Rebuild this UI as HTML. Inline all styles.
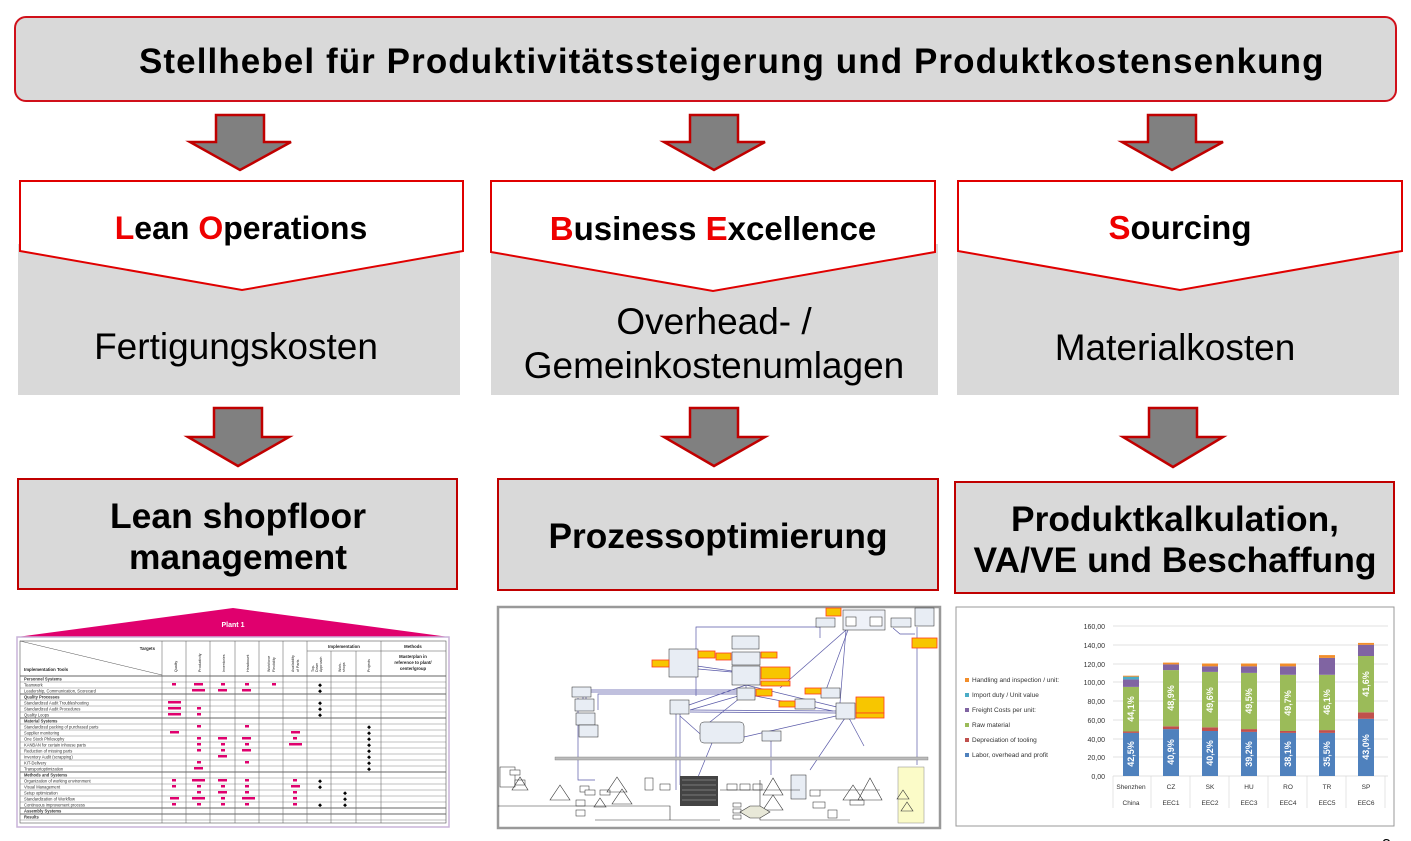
<!DOCTYPE html>
<html><head><meta charset="utf-8"><style>
html,body{margin:0;padding:0;background:#fff;width:1411px;height:841px;overflow:hidden}
svg{display:block;font-family:"Liberation Sans",Arial,sans-serif}
</style></head><body>
<svg width="1411" height="841" viewBox="0 0 1411 841" xmlns="http://www.w3.org/2000/svg">
<!-- Title -->
<rect x="15" y="17" width="1381" height="84" rx="11" fill="#d9d9d9" stroke="#d0101a" stroke-width="2"/>
<text x="731" y="73" text-anchor="middle" font-size="35" font-weight="bold" textLength="1184" lengthAdjust="spacing" letter-spacing="-0.5">Stellhebel für Produktivitätssteigerung  und Produktkostensenkung</text>

<!-- arrows -->
<g fill="#808080" stroke="#c00000" stroke-width="2.5" stroke-linejoin="miter">
<polygon points="216,115 264,115 264,142 291,142 240,170 190,142 216,142"/>
<polygon points="690,115 738,115 738,142 765,142 714,170 664,142 690,142"/>
<polygon points="1148,115 1196,115 1196,142 1223,142 1172,170 1122,142 1148,142"/>
<polygon points="214,408 262,408 262,437 289,437 238,466 188,437 214,437"/>
<polygon points="690,408 738,408 738,437 765,437 714,466 664,437 690,437"/>
<polygon points="1149,408 1197,408 1197,437 1223,437 1173,467 1123,437 1149,437"/>
</g>

<!-- column boxes -->
<rect x="18" y="244" width="442" height="151" fill="#d9d9d9"/>
<rect x="491" y="244" width="447" height="151" fill="#d9d9d9"/>
<rect x="957" y="244" width="442" height="151" fill="#d9d9d9"/>
<g fill="#fff" stroke="#e00000" stroke-width="2">
<polygon points="20,181 463,181 463,251 242,290 20,251"/>
<polygon points="491,181 935,181 935,252 713,291 491,252"/>
<polygon points="958,181 1402,181 1402,251 1180,290 958,251"/>
</g>
<g font-size="33" font-weight="bold" text-anchor="middle">
<text x="241" y="239" font-size="32"><tspan fill="#ee0000">L</tspan>ean <tspan fill="#ee0000">O</tspan>perations</text>
<text x="713" y="240"><tspan fill="#ee0000">B</tspan>usiness <tspan fill="#ee0000">E</tspan>xcellence</text>
<text x="1180" y="239"><tspan fill="#ee0000">S</tspan>ourcing</text>
</g>
<g font-size="37" text-anchor="middle">
<text x="236" y="359">Fertigungskosten</text>
<text x="714" y="334">Overhead- /</text>
<text x="714" y="378">Gemeinkostenumlagen</text>
<text x="1175" y="360">Materialkosten</text>
</g>

<!-- bottom boxes -->
<g fill="#d9d9d9" stroke="#c00000" stroke-width="2">
<rect x="18" y="479" width="439" height="110"/>
<rect x="498" y="479" width="440" height="111"/>
<rect x="955" y="482" width="439" height="111"/>
</g>
<g font-size="35" font-weight="bold" text-anchor="middle">
<text x="238" y="528" textLength="256" lengthAdjust="spacingAndGlyphs">Lean shopfloor</text>
<text x="238" y="569" textLength="218" lengthAdjust="spacingAndGlyphs">management</text>
<text x="718" y="548" textLength="339" lengthAdjust="spacingAndGlyphs">Prozessoptimierung</text>
<text x="1175" y="531" textLength="328" lengthAdjust="spacingAndGlyphs">Produktkalkulation,</text>
<text x="1175" y="572" textLength="403" lengthAdjust="spacingAndGlyphs">VA/VE und Beschaffung</text>
</g>

<!-- Left table image -->
<polygon points="17,637 233,608 449,637" fill="#e0006e"/>
<text x="233" y="627" font-size="7" font-weight="bold" fill="#fff" text-anchor="middle">Plant 1</text>
<rect x="17" y="637" width="432" height="190" fill="#fff" stroke="#c9b3d9" stroke-width="1.5"/>
<rect x="20" y="641" width="426" height="182" fill="none" stroke="#555" stroke-width="0.6"/>
<g stroke="#555" stroke-width="0.5">
<line x1="20" y1="641" x2="162" y2="675"/>
<line x1="162" y1="641" x2="162" y2="823"/><line x1="186" y1="641" x2="186" y2="823"/>
<line x1="210" y1="641" x2="210" y2="823"/><line x1="235" y1="641" x2="235" y2="823"/>
<line x1="259" y1="641" x2="259" y2="823"/><line x1="283" y1="641" x2="283" y2="823"/>
<line x1="307" y1="641" x2="307" y2="823"/><line x1="331" y1="651" x2="331" y2="823"/>
<line x1="356" y1="651" x2="356" y2="823"/><line x1="381" y1="641" x2="381" y2="823"/>
<line x1="307" y1="651" x2="446" y2="651"/>
</g>
<g font-size="4.3" fill="#222">
<text x="155" y="650" text-anchor="end" font-weight="bold">Targets</text>
<text x="24" y="671" font-weight="bold">Implementation  Tools</text>
<text x="344" y="648" text-anchor="middle" font-weight="bold">Implementation</text>
<text x="413" y="648" text-anchor="middle" font-weight="bold">Methods</text>
<text x="413" y="658" text-anchor="middle" font-weight="bold">Masterplan in</text>
<text x="413" y="664" text-anchor="middle" font-weight="bold">reference to plant/</text>
<text x="413" y="670" text-anchor="middle" font-weight="bold">center/group</text>
<g font-size="3.6">
<text transform="translate(177,672) rotate(-90)">Quality</text>
<text transform="translate(201,672) rotate(-90)">Productivity</text>
<text transform="translate(225,672) rotate(-90)">Inventories</text>
<text transform="translate(249,672) rotate(-90)">Headcount</text>
<text transform="translate(270,672) rotate(-90)">Workforce</text><text transform="translate(275,672) rotate(-90)">Flexibility</text>
<text transform="translate(294,672) rotate(-90)">Availability</text><text transform="translate(299,672) rotate(-90)">of Parts</text>
<text transform="translate(314,672) rotate(-90)">Top-</text><text transform="translate(318,672) rotate(-90)">Down</text><text transform="translate(322,672) rotate(-90)">Approach</text>
<text transform="translate(341,672) rotate(-90)">Work-</text><text transform="translate(345,672) rotate(-90)">shops</text>
<text transform="translate(370,672) rotate(-90)">Projects</text>
</g>
</g>
<g stroke="#666" stroke-width="0.4">
<line x1="20" y1="676" x2="446" y2="676" stroke-width="0.9"/>
<line x1="20" y1="682" x2="446" y2="682"/><line x1="20" y1="688" x2="446" y2="688"/><line x1="20" y1="694" x2="446" y2="694" stroke-width="0.9"/>
<line x1="20" y1="700" x2="446" y2="700"/><line x1="20" y1="706" x2="446" y2="706"/><line x1="20" y1="712" x2="446" y2="712"/><line x1="20" y1="718" x2="446" y2="718" stroke-width="0.9"/>
<line x1="20" y1="724" x2="446" y2="724"/><line x1="20" y1="730" x2="446" y2="730"/><line x1="20" y1="736" x2="446" y2="736"/><line x1="20" y1="742" x2="446" y2="742"/><line x1="20" y1="748" x2="446" y2="748"/><line x1="20" y1="754" x2="446" y2="754"/><line x1="20" y1="760" x2="446" y2="760"/><line x1="20" y1="766" x2="446" y2="766"/><line x1="20" y1="772" x2="446" y2="772" stroke-width="0.9"/>
<line x1="20" y1="778" x2="446" y2="778"/><line x1="20" y1="784" x2="446" y2="784"/><line x1="20" y1="790" x2="446" y2="790"/><line x1="20" y1="796" x2="446" y2="796"/><line x1="20" y1="802" x2="446" y2="802"/><line x1="20" y1="808" x2="446" y2="808" stroke-width="0.9"/><line x1="20" y1="814" x2="446" y2="814" stroke-width="0.9"/><line x1="20" y1="820" x2="446" y2="820"/>
</g>
<g font-size="4.1" fill="#333">
<text x="24" y="680.5" font-weight="bold">Personnel Systems</text>
<text x="24" y="686.5">Teamwork</text>
<text x="24" y="692.5">Leadership, Communication, Scorecard</text>
<text x="24" y="698.5" font-weight="bold">Quality Processes</text>
<text x="24" y="704.5">Standardized Audit Troubleshooting</text>
<text x="24" y="710.5">Standardized Audit Procedures</text>
<text x="24" y="716.5">Quality Loops</text>
<text x="24" y="722.5" font-weight="bold">Material Systems</text>
<text x="24" y="728.5">Standardized packing of purchased parts</text>
<text x="24" y="734.5">Supplier monitoring</text>
<text x="24" y="740.5">One Stock Philosophy</text>
<text x="24" y="746.5">KANBAN for certain inhouse parts</text>
<text x="24" y="752.5">Reduction of missing parts</text>
<text x="24" y="758.5">Inventory Audit (scrapping)</text>
<text x="24" y="764.5">KIT-Delivery</text>
<text x="24" y="770.5">Transportoptimization</text>
<text x="24" y="776.5" font-weight="bold">Methods and Systems</text>
<text x="24" y="782.5">Organization of working environment</text>
<text x="24" y="788.5">Visual Management</text>
<text x="24" y="794.5">Setup optimization</text>
<text x="24" y="800.5">Standardization of Workflow</text>
<text x="24" y="806.5">Continuous improvement process</text>
<text x="24" y="812.5" font-weight="bold">Assembly Systems</text>
<text x="24" y="818.5" font-weight="bold">Results</text>
</g>
<g fill="#e0006e">
<rect x="172" y="683" width="4" height="2.5"/><rect x="194" y="683" width="9" height="2.5"/><rect x="221" y="683" width="4" height="2.5"/><rect x="245" y="683" width="4" height="2.5"/><rect x="272" y="683" width="4" height="2.5"/>
<rect x="192" y="689" width="13" height="2.5"/><rect x="218" y="689" width="9" height="2.5"/><rect x="242" y="689" width="9" height="2.5"/>
<rect x="168" y="701" width="13" height="2.5"/><rect x="168" y="707" width="13" height="2.5"/><rect x="197" y="707" width="4" height="2.5"/><rect x="168" y="713" width="13" height="2.5"/><rect x="197" y="713" width="4" height="2.5"/>
<rect x="197" y="725" width="4" height="2.5"/><rect x="245" y="725" width="4" height="2.5"/>
<rect x="170" y="731" width="9" height="2.5"/><rect x="291" y="731" width="9" height="2.5"/>
<rect x="197" y="737" width="4" height="2.5"/><rect x="218" y="737" width="9" height="2.5"/><rect x="242" y="737" width="9" height="2.5"/><rect x="293" y="737" width="4" height="2.5"/>
<rect x="197" y="743" width="4" height="2.5"/><rect x="221" y="743" width="4" height="2.5"/><rect x="245" y="743" width="4" height="2.5"/><rect x="289" y="743" width="13" height="2.5"/>
<rect x="197" y="749" width="4" height="2.5"/><rect x="221" y="749" width="4" height="2.5"/><rect x="242" y="749" width="9" height="2.5"/>
<rect x="218" y="755" width="9" height="2.5"/>
<rect x="197" y="761" width="4" height="2.5"/><rect x="245" y="761" width="4" height="2.5"/>
<rect x="194" y="767" width="9" height="2.5"/>
<rect x="172" y="779" width="4" height="2.5"/><rect x="192" y="779" width="13" height="2.5"/><rect x="218" y="779" width="9" height="2.5"/><rect x="245" y="779" width="4" height="2.5"/><rect x="293" y="779" width="4" height="2.5"/>
<rect x="172" y="785" width="4" height="2.5"/><rect x="197" y="785" width="4" height="2.5"/><rect x="221" y="785" width="4" height="2.5"/><rect x="245" y="785" width="4" height="2.5"/><rect x="291" y="785" width="9" height="2.5"/>
<rect x="197" y="791" width="4" height="2.5"/><rect x="218" y="791" width="9" height="2.5"/><rect x="245" y="791" width="4" height="2.5"/><rect x="293" y="791" width="4" height="2.5"/>
<rect x="170" y="797" width="9" height="2.5"/><rect x="192" y="797" width="13" height="2.5"/><rect x="221" y="797" width="4" height="2.5"/><rect x="242" y="797" width="13" height="2.5"/><rect x="293" y="797" width="4" height="2.5"/>
<rect x="172" y="803" width="4" height="2.5"/><rect x="197" y="803" width="4" height="2.5"/><rect x="221" y="803" width="4" height="2.5"/><rect x="245" y="803" width="4" height="2.5"/><rect x="293" y="803" width="4" height="2.5"/>
</g>
<g font-size="5" fill="#000" text-anchor="middle">
<text x="320" y="686.5">◆</text><text x="320" y="692.5">◆</text><text x="320" y="704.5">◆</text><text x="320" y="710.5">◆</text><text x="320" y="716.5">◆</text>
<text x="369" y="728.5">◆</text><text x="369" y="734.5">◆</text><text x="369" y="740.5">◆</text><text x="369" y="746.5">◆</text><text x="369" y="752.5">◆</text><text x="369" y="758.5">◆</text><text x="369" y="764.5">◆</text><text x="369" y="770.5">◆</text>
<text x="320" y="782.5">◆</text><text x="320" y="788.5">◆</text><text x="345" y="794.5">◆</text><text x="345" y="800.5">◆</text><text x="320" y="806.5">◆</text><text x="345" y="806.5">◆</text>
</g>

<!-- Middle process diagram -->
<rect x="498" y="607" width="442" height="221" fill="#fff" stroke="#999" stroke-width="2.5"/>
<g stroke="#5a5aa8" stroke-width="0.7" fill="none">
<polyline points="696,696 696,627 820,627 820,638"/>
<line x1="669" y1="662" x2="732" y2="671"/><line x1="698" y1="669" x2="732" y2="672"/>
<line x1="746" y1="685" x2="746" y2="688"/><line x1="746" y1="685" x2="689" y2="705"/>
<line x1="746" y1="685" x2="845" y2="709"/><line x1="745" y1="694" x2="690" y2="710"/>
<line x1="745" y1="694" x2="700" y2="730"/><line x1="745" y1="694" x2="833" y2="711"/>
<line x1="690" y1="710" x2="836" y2="711"/><line x1="680" y1="716" x2="707" y2="740"/>
<line x1="690" y1="712" x2="836" y2="713"/><line x1="744" y1="737" x2="836" y2="716"/>
<line x1="848" y1="630" x2="826" y2="690"/><line x1="846" y1="630" x2="780" y2="688"/>
<line x1="846" y1="630" x2="840" y2="703"/><line x1="845" y1="718" x2="810" y2="770"/>
<line x1="842" y1="705" x2="864" y2="746"/><line x1="712" y1="743" x2="698" y2="777"/>
<line x1="771" y1="741" x2="771" y2="775"/>
<polyline points="578,698 578,780 595,780"/><polyline points="583,700 583,690 737,690"/>
<polyline points="586,700 586,692 737,692"/><polyline points="598,710 598,694 737,694"/>
<polyline points="676,713 676,790"/><polyline points="680,713 680,785"/>
<polyline points="917,627 917,765"/><polyline points="893,628 900,634 915,634"/>
</g>
<rect x="555" y="757" width="373" height="3" fill="#bbb" stroke="#777" stroke-width="0.4"/>
<g stroke="#222" stroke-width="0.5" fill="#e8edf4">
<rect x="843" y="610" width="42" height="20" fill="#eef1f8"/><rect x="846" y="617" width="10" height="9" fill="#fff"/><rect x="870" y="617" width="12" height="9" fill="#fff"/>
<rect x="816" y="618" width="19" height="9"/><rect x="891" y="618" width="20" height="9"/><rect x="915" y="608" width="19" height="18"/>
<rect x="669" y="649" width="29" height="28"/><rect x="732" y="636" width="27" height="13"/><rect x="732" y="652" width="28" height="13"/><rect x="732" y="666" width="28" height="19"/>
<rect x="572" y="687" width="19" height="10"/><rect x="575" y="699" width="19" height="12"/><rect x="576" y="713" width="19" height="12"/><rect x="579" y="725" width="19" height="12"/>
<rect x="737" y="688" width="18" height="12"/><rect x="670" y="700" width="19" height="14"/><rect x="795" y="699" width="20" height="10"/><rect x="821" y="688" width="19" height="10"/><rect x="836" y="703" width="19" height="16"/>
<rect x="700" y="722" width="44" height="21" rx="4"/><rect x="762" y="731" width="19" height="10"/>
<rect x="791" y="775" width="15" height="24"/><rect x="645" y="778" width="8" height="12" fill="#fff"/>
<rect x="660" y="784" width="10" height="6" fill="#fff"/><rect x="727" y="784" width="10" height="6" fill="#fff"/><rect x="740" y="784" width="10" height="6" fill="#fff"/><rect x="753" y="784" width="9" height="6" fill="#fff"/>
<rect x="580" y="786" width="9" height="6" fill="#fff"/><rect x="585" y="790" width="10" height="5" fill="#fff"/><rect x="600" y="790" width="10" height="5" fill="#fff"/>
<rect x="576" y="800" width="9" height="6" fill="#fff"/><rect x="576" y="810" width="9" height="6" fill="#fff"/><rect x="810" y="790" width="10" height="6" fill="#fff"/>
<rect x="813" y="802" width="12" height="6" fill="#fff"/><rect x="828" y="810" width="9" height="8" fill="#fff"/><rect x="850" y="800" width="14" height="5" fill="#fff"/>
<rect x="500" y="767" width="15" height="20" fill="#fff"/><rect x="510" y="770" width="10" height="5" fill="#fff"/><rect x="515" y="780" width="10" height="5" fill="#fff"/>
<rect x="733" y="803" width="8" height="4" fill="#fff"/><rect x="733" y="809" width="8" height="4" fill="#fff"/><rect x="733" y="815" width="8" height="4" fill="#fff"/>
</g>
<rect x="680" y="776" width="38" height="30" fill="#444"/>
<g stroke="#ccc" stroke-width="0.4"><line x1="682" y1="780" x2="716" y2="780"/><line x1="682" y1="785" x2="716" y2="785"/><line x1="682" y1="790" x2="716" y2="790"/><line x1="682" y1="795" x2="716" y2="795"/><line x1="682" y1="800" x2="716" y2="800"/></g>
<rect x="898" y="767" width="26" height="56" fill="#fbfbc8" stroke="#888" stroke-width="0.5"/>
<g fill="#f7c600" stroke="#ff3b1f" stroke-width="0.8">
<rect x="826" y="608" width="15" height="8"/><rect x="652" y="660" width="17" height="7"/><rect x="698" y="651" width="17" height="7"/><rect x="716" y="653" width="15" height="7"/>
<rect x="761" y="652" width="16" height="6"/><rect x="761" y="667" width="29" height="12"/><rect x="761" y="681" width="29" height="5"/><rect x="756" y="689" width="16" height="7"/>
<rect x="779" y="701" width="16" height="6"/><rect x="805" y="688" width="16" height="6"/><rect x="856" y="697" width="28" height="16"/><rect x="856" y="713" width="28" height="5"/><rect x="912" y="638" width="25" height="10"/>
</g>
<g fill="none" stroke="#333" stroke-width="0.6">
<polygon points="560,785 550,800 570,800"/><polygon points="617,777 607,792 627,792"/><polygon points="622,789 612,804 632,804"/>
<polygon points="773,778 763,795 783,795"/><polygon points="773,795 763,810 783,810"/><polygon points="853,785 843,800 863,800"/>
<polygon points="870,778 858,800 882,800"/><polygon points="903,790 897,799 909,799"/><polygon points="907,802 901,811 913,811"/>
<polygon points="520,777 512,790 528,790"/><polygon points="600,798 594,807 606,807"/>
<polyline points="498,806 670,806 670,820"/><polyline points="595,820 720,820"/><polyline points="760,780 760,820 850,820"/>
<polyline points="720,790 800,790"/><polyline points="820,790 880,790"/>
<polygon points="740,812 750,806 760,806 770,812 760,818 750,818" fill="#e8e8d8"/>
</g>

<!-- Right chart -->
<rect x="956" y="607" width="438" height="219" fill="#fff" stroke="#999" stroke-width="1"/>
<g stroke="#d9d9d9" stroke-width="0.7">
<line x1="1113" y1="626" x2="1388" y2="626"/><line x1="1113" y1="645" x2="1388" y2="645"/><line x1="1113" y1="664" x2="1388" y2="664"/>
<line x1="1113" y1="682" x2="1388" y2="682"/><line x1="1113" y1="701" x2="1388" y2="701"/><line x1="1113" y1="720" x2="1388" y2="720"/>
<line x1="1113" y1="739" x2="1388" y2="739"/><line x1="1113" y1="757" x2="1388" y2="757"/><line x1="1113" y1="776" x2="1388" y2="776"/>
<line x1="1113" y1="776" x2="1113" y2="808"/><line x1="1151" y1="776" x2="1151" y2="808"/><line x1="1190" y1="776" x2="1190" y2="808"/><line x1="1229" y1="776" x2="1229" y2="808"/>
<line x1="1268" y1="776" x2="1268" y2="808"/><line x1="1307" y1="776" x2="1307" y2="808"/><line x1="1346" y1="776" x2="1346" y2="808"/><line x1="1385" y1="776" x2="1385" y2="808"/>
</g>
<g font-size="7" fill="#333" text-anchor="end">
<text x="1105" y="629">160,00</text><text x="1105" y="648">140,00</text><text x="1105" y="667">120,00</text><text x="1105" y="685">100,00</text>
<text x="1105" y="704">80,00</text><text x="1105" y="723">60,00</text><text x="1105" y="742">40,00</text><text x="1105" y="760">20,00</text><text x="1105" y="779">0,00</text>
</g>
<g font-size="6.5" fill="#333" text-anchor="middle">
<text x="1131" y="789">Shenzhen</text><text x="1171" y="789">CZ</text><text x="1210" y="789">SK</text><text x="1249" y="789">HU</text><text x="1288" y="789">RO</text><text x="1327" y="789">TR</text><text x="1366" y="789">SP</text>
<text x="1131" y="805">China</text><text x="1171" y="805">EEC1</text><text x="1210" y="805">EEC2</text><text x="1249" y="805">EEC3</text><text x="1288" y="805">EEC4</text><text x="1327" y="805">EEC5</text><text x="1366" y="805">EEC6</text>
</g>
<g font-size="6.5" fill="#333">
<rect x="965" y="678" width="4" height="4" fill="#f28e2b"/><text x="972" y="682">Handling and inspection / unit:</text>
<rect x="965" y="693" width="4" height="4" fill="#4bacc6"/><text x="972" y="697">Import duty / Unit value</text>
<rect x="965" y="708" width="4" height="4" fill="#8064a2"/><text x="972" y="712">Freight Costs per unit:</text>
<rect x="965" y="723" width="4" height="4" fill="#9bbb59"/><text x="972" y="727">Raw material</text>
<rect x="965" y="738" width="4" height="4" fill="#c0504d"/><text x="972" y="742">Depreciation of tooling</text>
<rect x="965" y="753" width="4" height="4" fill="#4f81bd"/><text x="972" y="757">Labor, overhead and profit</text>
</g>
<g>
<rect x="1123" y="732.9" width="16" height="43.1" fill="#4f81bd"/><rect x="1123" y="731.5" width="16" height="1.4" fill="#c0504d"/>
<rect x="1123" y="686.9" width="16" height="44.6" fill="#9bbb59"/><rect x="1123" y="679.4" width="16" height="7.5" fill="#8064a2"/>
<rect x="1123" y="676.6" width="16" height="2.8" fill="#4bacc6"/><rect x="1123" y="675.7" width="16" height="1" fill="#f28e2b"/>
<rect x="1163" y="729.1" width="16" height="46.9" fill="#4f81bd"/><rect x="1163" y="726.3" width="16" height="2.8" fill="#c0504d"/>
<rect x="1163" y="670.1" width="16" height="56.2" fill="#9bbb59"/><rect x="1163" y="664.4" width="16" height="5.7" fill="#8064a2"/><rect x="1163" y="662.6" width="16" height="1.8" fill="#f28e2b"/>
<rect x="1202" y="731" width="16" height="45" fill="#4f81bd"/><rect x="1202" y="727.3" width="16" height="3.7" fill="#c0504d"/>
<rect x="1202" y="671.9" width="16" height="55.4" fill="#9bbb59"/><rect x="1202" y="666.3" width="16" height="5.6" fill="#8064a2"/><rect x="1202" y="663.5" width="16" height="2.8" fill="#f28e2b"/>
<rect x="1241" y="731.9" width="16" height="44.1" fill="#4f81bd"/><rect x="1241" y="729.1" width="16" height="2.8" fill="#c0504d"/>
<rect x="1241" y="672.9" width="16" height="56.2" fill="#9bbb59"/><rect x="1241" y="666.3" width="16" height="6.6" fill="#8064a2"/><rect x="1241" y="663.5" width="16" height="2.8" fill="#f28e2b"/>
<rect x="1280" y="732.9" width="16" height="43.1" fill="#4f81bd"/><rect x="1280" y="731" width="16" height="1.9" fill="#c0504d"/>
<rect x="1280" y="674.8" width="16" height="56.2" fill="#9bbb59"/><rect x="1280" y="666.3" width="16" height="8.5" fill="#8064a2"/><rect x="1280" y="663.5" width="16" height="2.8" fill="#f28e2b"/>
<rect x="1319" y="732.9" width="16" height="43.1" fill="#4f81bd"/><rect x="1319" y="730.1" width="16" height="2.8" fill="#c0504d"/>
<rect x="1319" y="674.8" width="16" height="55.3" fill="#9bbb59"/><rect x="1319" y="657.9" width="16" height="16.9" fill="#8064a2"/><rect x="1319" y="655.1" width="16" height="2.8" fill="#f28e2b"/>
<rect x="1358" y="718.8" width="16" height="57.2" fill="#4f81bd"/><rect x="1358" y="712.3" width="16" height="6.5" fill="#c0504d"/>
<rect x="1358" y="656" width="16" height="56.3" fill="#9bbb59"/><rect x="1358" y="644.8" width="16" height="11.2" fill="#8064a2"/><rect x="1358" y="642.9" width="16" height="1.9" fill="#f28e2b"/>
</g>
<g font-size="9" font-weight="bold" fill="#fff" text-anchor="middle">
<text transform="translate(1134,754) rotate(-90)">42,5%</text><text transform="translate(1134,709) rotate(-90)">44,1%</text>
<text transform="translate(1174,752) rotate(-90)">40,9%</text><text transform="translate(1174,698) rotate(-90)">48,9%</text>
<text transform="translate(1213,753) rotate(-90)">40,2%</text><text transform="translate(1213,700) rotate(-90)">49,6%</text>
<text transform="translate(1252,754) rotate(-90)">39,2%</text><text transform="translate(1252,701) rotate(-90)">49,5%</text>
<text transform="translate(1291,754) rotate(-90)">38,1%</text><text transform="translate(1291,703) rotate(-90)">49,7%</text>
<text transform="translate(1330,754) rotate(-90)">35,5%</text><text transform="translate(1330,702) rotate(-90)">46,1%</text>
<text transform="translate(1369,747) rotate(-90)">43,0%</text><text transform="translate(1369,684) rotate(-90)">41,6%</text>
</g>
<text x="1382" y="850" font-size="16" fill="#000">3</text>
</svg>
</body></html>
